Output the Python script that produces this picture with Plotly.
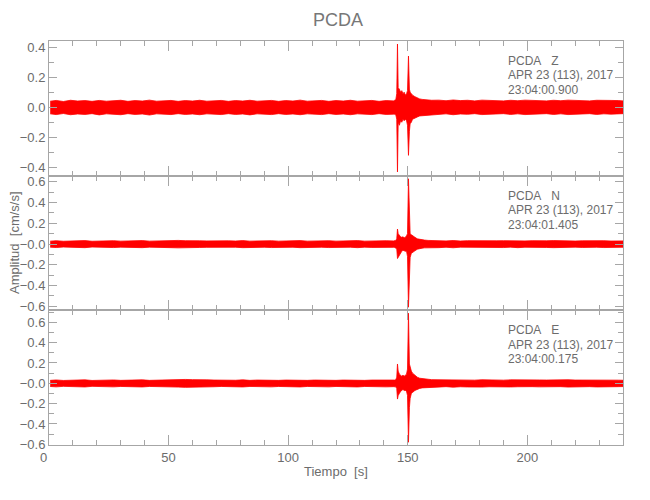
import plotly.graph_objects as go
from plotly.subplots import make_subplots

# ---------------- data (envelopes) ----------------
t_quiet1 = [0.5, 3, 6, 9, 12, 15, 18, 21, 24, 27, 30, 33, 36, 39, 42, 45, 48, 51, 54, 57,
            60, 63, 66, 69, 72, 75, 78, 81, 84, 87, 90, 93, 96, 99, 102, 105, 108, 111, 114, 117,
            120, 123, 126, 129, 132, 135, 138, 141, 144]
t_event = [144.5, 145.0, 145.4, 145.7, 146.0, 146.5, 147.0, 147.5, 148.0, 148.5, 149.0, 149.5,
           149.9, 150.3, 150.7, 151.0, 151.5, 152.0, 153.0, 154.0, 155.0, 156.0, 157.0, 158.5, 160.0]
t_quiet2 = [163, 166, 169, 172, 175, 178, 181, 184, 187, 190, 193, 196, 199, 202, 205, 208, 211,
            214, 217, 220, 223, 226, 229, 232, 235, 238, 240]

# Z component
z_up_q1 = [0.040, 0.045, 0.038, 0.046, 0.041, 0.044, 0.039, 0.045, 0.040, 0.043,
           0.046, 0.039, 0.044, 0.041, 0.047, 0.040, 0.043, 0.045, 0.039, 0.044,
           0.041, 0.046, 0.040, 0.043, 0.045, 0.039, 0.044, 0.041, 0.046, 0.040,
           0.043, 0.045, 0.039, 0.044, 0.041, 0.047, 0.040, 0.043, 0.045, 0.039,
           0.044, 0.041, 0.046, 0.040, 0.043, 0.045, 0.039, 0.044, 0.042]
z_lo_q1 = [-0.044, -0.049, -0.042, -0.050, -0.045, -0.048, -0.043, -0.051, -0.044, -0.047,
           -0.050, -0.043, -0.048, -0.045, -0.052, -0.044, -0.047, -0.049, -0.043, -0.048,
           -0.045, -0.050, -0.044, -0.047, -0.049, -0.043, -0.048, -0.045, -0.051, -0.044,
           -0.047, -0.049, -0.043, -0.048, -0.045, -0.050, -0.044, -0.047, -0.049, -0.043,
           -0.048, -0.045, -0.050, -0.044, -0.047, -0.049, -0.043, -0.048, -0.046]
z_up_ev = [0.046, 0.050, 0.090, 0.420, 0.130, 0.120, 0.100, 0.110, 0.090, 0.100, 0.080, 0.090,
           0.110, 0.340, 0.120, 0.100, 0.090, 0.080, 0.070, 0.060, 0.055, 0.052, 0.050, 0.048, 0.046]
z_lo_ev = [-0.047, -0.050, -0.080, -0.430, -0.100, -0.120, -0.090, -0.100, -0.080, -0.090, -0.080,
           -0.090, -0.120, -0.320, -0.160, -0.110, -0.100, -0.080, -0.070, -0.065, -0.058, -0.054,
           -0.052, -0.049, -0.047]
z_up_q2 = [0.047, 0.043, 0.048, 0.044, 0.046, 0.042, 0.047, 0.044, 0.045, 0.042,
           0.046, 0.043, 0.047, 0.044, 0.045, 0.042, 0.046, 0.043, 0.047, 0.044,
           0.045, 0.042, 0.046, 0.043, 0.045, 0.044, 0.042]
z_lo_q2 = [-0.048, -0.044, -0.050, -0.045, -0.047, -0.043, -0.049, -0.045, -0.046, -0.043,
           -0.048, -0.044, -0.049, -0.045, -0.046, -0.043, -0.048, -0.044, -0.049, -0.045,
           -0.046, -0.043, -0.048, -0.044, -0.046, -0.045, -0.043]

# N component
n_up_q1 = [0.028, 0.032, 0.027, 0.031, 0.029, 0.033, 0.027, 0.031, 0.029, 0.032,
           0.028, 0.031, 0.029, 0.033, 0.028, 0.031, 0.030, 0.033, 0.035, 0.032,
           0.034, 0.031, 0.030, 0.032, 0.028, 0.031, 0.029, 0.033, 0.028, 0.031,
           0.029, 0.032, 0.028, 0.031, 0.029, 0.033, 0.028, 0.031, 0.029, 0.032,
           0.028, 0.031, 0.029, 0.033, 0.028, 0.031, 0.029, 0.032, 0.030]
n_lo_q1 = [-0.030, -0.034, -0.029, -0.033, -0.031, -0.035, -0.029, -0.033, -0.031, -0.034,
           -0.030, -0.033, -0.031, -0.035, -0.030, -0.033, -0.032, -0.035, -0.037, -0.033,
           -0.036, -0.033, -0.032, -0.034, -0.030, -0.033, -0.031, -0.035, -0.030, -0.033,
           -0.031, -0.034, -0.030, -0.033, -0.031, -0.035, -0.030, -0.033, -0.031, -0.034,
           -0.030, -0.033, -0.031, -0.035, -0.030, -0.033, -0.031, -0.034, -0.032]
n_up_ev = [0.032, 0.035, 0.050, 0.145, 0.100, 0.080, 0.070, 0.065, 0.070, 0.060, 0.065, 0.080,
           0.100, 0.630, 0.120, 0.100, 0.090, 0.080, 0.065, 0.050, 0.045, 0.040, 0.038, 0.035, 0.033]
n_lo_ev = [-0.033, -0.035, -0.045, -0.140, -0.120, -0.100, -0.090, -0.070, -0.060, -0.065, -0.070,
           -0.070, -0.120, -0.610, -0.300, -0.130, -0.090, -0.080, -0.065, -0.050, -0.045, -0.040,
           -0.037, -0.035, -0.033]
n_up_q2 = [0.033, 0.030, 0.034, 0.029, 0.032, 0.030, 0.033, 0.029, 0.031, 0.032,
           0.029, 0.033, 0.030, 0.032, 0.029, 0.031, 0.033, 0.030, 0.032, 0.029,
           0.031, 0.033, 0.030, 0.032, 0.029, 0.031, 0.030]
n_lo_q2 = [-0.035, -0.031, -0.036, -0.030, -0.034, -0.031, -0.035, -0.030, -0.033, -0.034,
           -0.030, -0.035, -0.031, -0.034, -0.030, -0.033, -0.035, -0.031, -0.034, -0.030,
           -0.033, -0.035, -0.031, -0.034, -0.030, -0.033, -0.031]

# E component
e_up_q1 = [0.029, 0.033, 0.028, 0.032, 0.030, 0.034, 0.028, 0.032, 0.030, 0.033,
           0.029, 0.032, 0.030, 0.034, 0.029, 0.032, 0.031, 0.033, 0.035, 0.038,
           0.036, 0.038, 0.034, 0.032, 0.029, 0.032, 0.030, 0.034, 0.029, 0.032,
           0.030, 0.033, 0.029, 0.032, 0.030, 0.034, 0.029, 0.032, 0.030, 0.033,
           0.029, 0.032, 0.030, 0.034, 0.029, 0.032, 0.030, 0.033, 0.031]
e_lo_q1 = [-0.031, -0.035, -0.030, -0.034, -0.032, -0.036, -0.030, -0.034, -0.032, -0.035,
           -0.031, -0.034, -0.032, -0.036, -0.031, -0.034, -0.033, -0.035, -0.037, -0.040,
           -0.038, -0.040, -0.036, -0.034, -0.031, -0.034, -0.032, -0.036, -0.031, -0.034,
           -0.032, -0.035, -0.031, -0.034, -0.032, -0.036, -0.031, -0.034, -0.032, -0.035,
           -0.031, -0.034, -0.032, -0.036, -0.031, -0.034, -0.032, -0.035, -0.033]
e_up_ev = [0.032, 0.035, 0.060, 0.190, 0.120, 0.090, 0.080, 0.070, 0.080, 0.070, 0.080, 0.090,
           0.140, 0.690, 0.190, 0.150, 0.120, 0.100, 0.080, 0.060, 0.050, 0.045, 0.040, 0.040, 0.036]
e_lo_ev = [-0.033, -0.035, -0.050, -0.155, -0.120, -0.100, -0.080, -0.070, -0.060, -0.070, -0.070,
           -0.080, -0.120, -0.580, -0.240, -0.150, -0.100, -0.090, -0.070, -0.060, -0.050, -0.045,
           -0.040, -0.037, -0.035]
e_up_q2 = [0.035, 0.031, 0.036, 0.032, 0.034, 0.031, 0.035, 0.032, 0.033, 0.031,
           0.034, 0.032, 0.035, 0.031, 0.033, 0.032, 0.034, 0.031, 0.035, 0.032,
           0.033, 0.031, 0.034, 0.032, 0.033, 0.031, 0.030]
e_lo_q2 = [-0.037, -0.033, -0.038, -0.034, -0.036, -0.033, -0.037, -0.034, -0.035, -0.033,
           -0.036, -0.034, -0.037, -0.033, -0.035, -0.034, -0.036, -0.033, -0.037, -0.034,
           -0.035, -0.033, -0.036, -0.034, -0.035, -0.033, -0.032]

components = ["Z", "N", "E"]
start_times = ["23:04:00.900", "23:04:01.405", "23:04:00.175"]
date_label = "APR 23 (113), 2017"
station = "PCDA"

y_ranges = [[-0.455, 0.44], [-0.64, 0.66], [-0.607, 0.718]]
y_ticks_z = [0.4, 0.2, 0.0, -0.2, -0.4]
y_ticktext_z = ["0.4", "0.2", "0.0", "\u22120.2", "\u22120.4"]
y_ticks_ne = [0.6, 0.4, 0.2, 0.0, -0.2, -0.4, -0.6]
y_ticktext_ne = ["0.6", "0.4", "0.2", "\u22120.0", "\u22120.2", "\u22120.4", "\u22120.6"]
x_ticks = [0, 50, 100, 150, 200]
x_ticktext = ["0\u00a0\u00a0\u00a0", "50", "100", "150", "200"]

# ---------------- figure ----------------
t_all = t_quiet1 + t_event + t_quiet2
series = [
    (z_up_q1 + z_up_ev + z_up_q2, z_lo_q1 + z_lo_ev + z_lo_q2),
    (n_up_q1 + n_up_ev + n_up_q2, n_lo_q1 + n_lo_ev + n_lo_q2),
    (e_up_q1 + e_up_ev + e_up_q2, e_lo_q1 + e_lo_ev + e_lo_q2),
]
for up, lo in series:
    assert len(up) == len(t_all) and len(lo) == len(t_all), (len(up), len(lo), len(t_all))

fig = make_subplots(rows=3, cols=1, shared_xaxes=True, vertical_spacing=0)

RED = "#ff0000"
for i, (up, lo) in enumerate(series):
    fig.add_trace(go.Scatter(
        x=t_all + t_all[::-1], y=up + lo[::-1],
        mode="lines", fill="toself", fillcolor=RED,
        line=dict(color=RED, width=0.8), hoverinfo="skip", showlegend=False),
        row=i + 1, col=1)

FONT = "Liberation Sans Narrow, Liberation Sans, Arial, sans-serif"
TXT = "#6c6c6c"
LINE = "#a6a6a6"
FS = 13

for i in range(3):
    fig.update_xaxes(
        range=[0, 240], tickvals=x_ticks, ticktext=x_ticktext,
        ticks="inside", ticklen=10, tickcolor=LINE, tickwidth=1,
        minor=dict(dtick=10, tick0=0, ticks="inside", ticklen=5, tickcolor=LINE),
        showline=True, linecolor=LINE, linewidth=1, mirror="allticks",
        showgrid=False, zeroline=False, showticklabels=(i == 2), automargin=False,
        tickfont=dict(family=FONT, size=FS, color=TXT),
        row=i + 1, col=1)
    fig.update_yaxes(
        range=y_ranges[i],
        tickvals=y_ticks_z if i == 0 else y_ticks_ne,
        ticktext=y_ticktext_z if i == 0 else y_ticktext_ne,
        ticks="inside", ticklen=8, tickcolor=LINE, tickwidth=1,
        minor=dict(dtick=0.1, tick0=0, ticks="inside", ticklen=5, tickcolor=LINE),
        showline=True, linecolor=LINE, linewidth=1, mirror="allticks",
        showgrid=False, zeroline=False, automargin=False,
        tickfont=dict(family=FONT, size=FS, color=TXT),
        row=i + 1, col=1)

# The page body adds an 8 px margin, so the figure is sized to fit the
# 650x500 window and all pixel positions below are given in window pixels.
OFF = 8
W, H = 650 - 2 * OFF, 500 - 2 * OFF
plot_left, plot_right, plot_top, plot_bottom = 49, 623, 41, 445   # window pixels
L = plot_left - OFF
T = plot_top - OFF
pw = plot_right - plot_left
ph = plot_bottom - plot_top
R = W - L - pw
B = H - T - ph
panel_h = ph / 3.0

def px(xwin):
    return (xwin - plot_left) / pw

def py(ywin):
    return (plot_bottom - ywin) / ph

annotations = []
for i, comp in enumerate(components):
    base = i * panel_h
    lines = [station + "\u00a0\u00a0\u00a0" + comp, date_label, start_times[i]]
    for j, txt in enumerate(lines):
        annotations.append(dict(
            text=txt, xref="paper", yref="paper", x=px(506), y=py(61 + base + 14.5 * j),
            xanchor="left", yanchor="middle", showarrow=False,
            font=dict(family=FONT, size=12, color=TXT)))

annotations.append(dict(text="Amplitud\u00a0\u00a0[cm/s/s]", xref="paper", yref="paper",
                        x=px(14), y=py(243), textangle=-90, xanchor="center", yanchor="middle",
                        showarrow=False, font=dict(family=FONT, size=FS, color=TXT)))
annotations.append(dict(text="Tiempo\u00a0\u00a0[s]", xref="paper", yref="paper",
                        x=px(336), y=py(471), xanchor="center", yanchor="middle",
                        showarrow=False, font=dict(family=FONT, size=FS, color=TXT)))

fig.update_layout(
    width=W, height=H,
    margin=dict(l=L, r=R, t=T, b=B, autoexpand=False),
    paper_bgcolor="white", plot_bgcolor="white",
    title=dict(text=station, x=px(338), xref="paper", xanchor="center",
               y=1 - (20 - OFF) / H, yanchor="middle",
               font=dict(family=FONT, size=18, color="#777777")),
    annotations=annotations,
    showlegend=False,
)

fig.write_html("out.html")
